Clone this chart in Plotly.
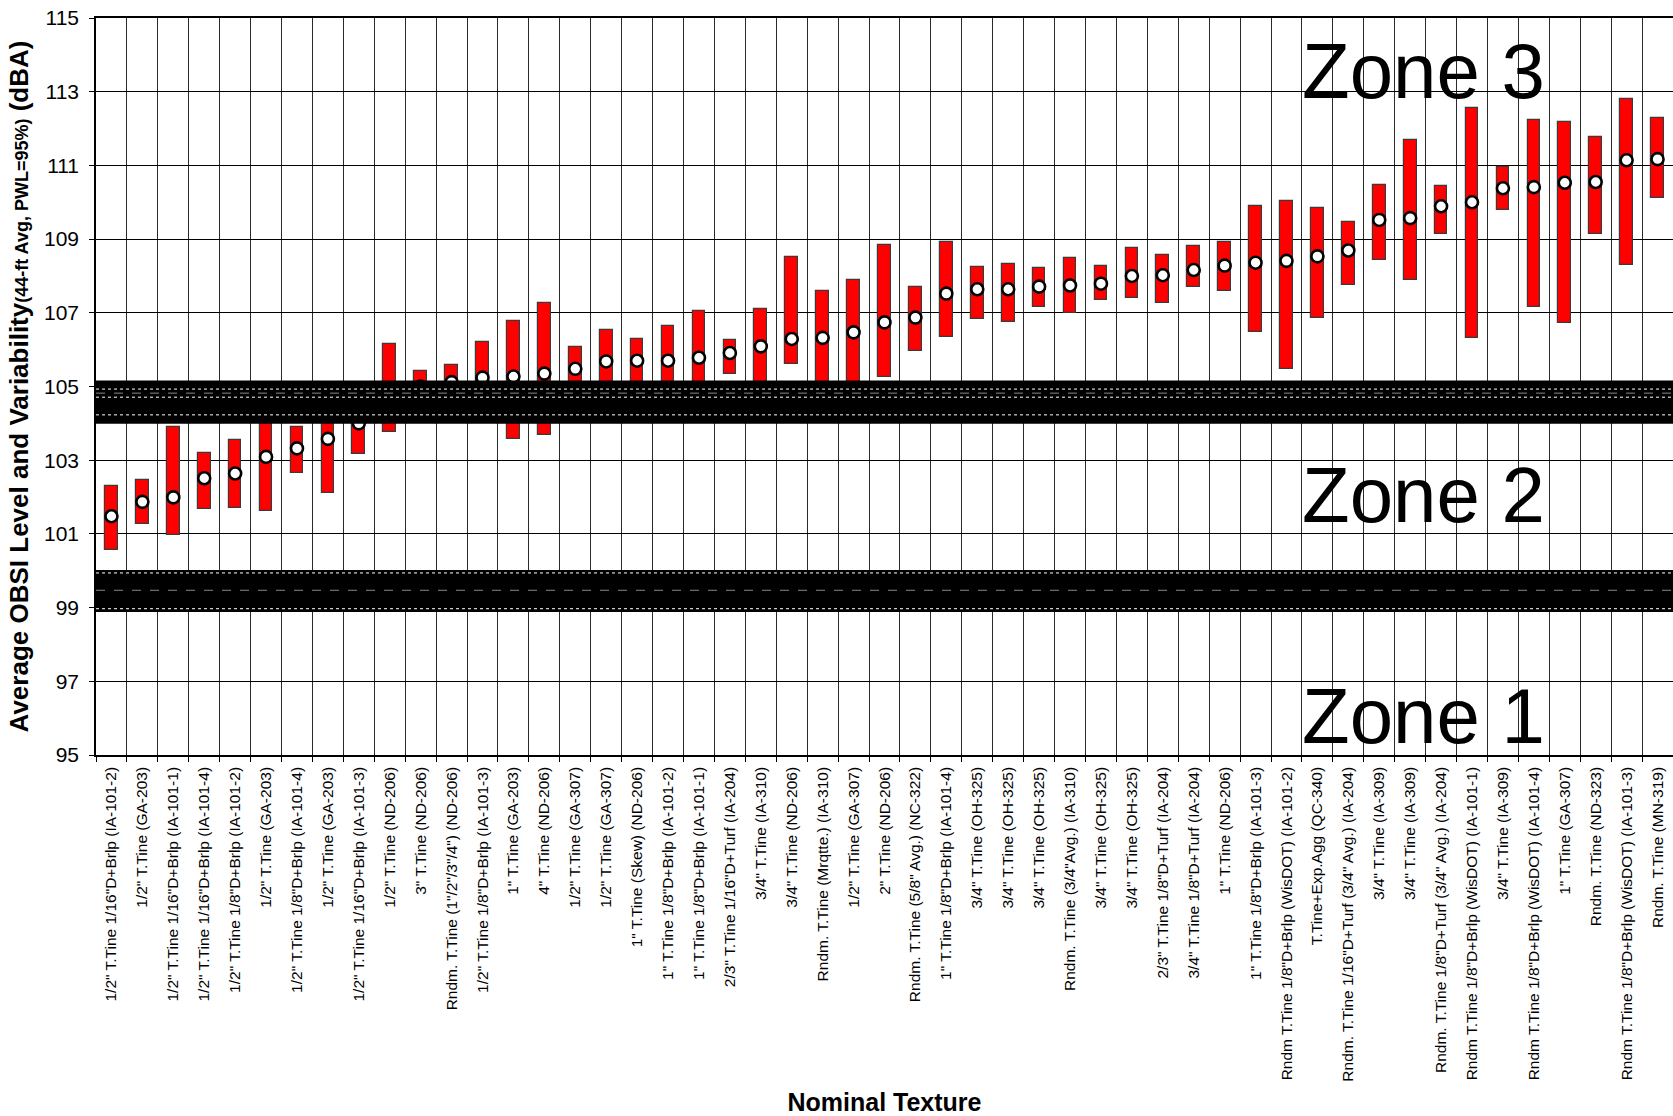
import plotly.graph_objects as go

labels = [
    '1/2" T.Tine 1/16"D+Brlp (IA-101-2)',
    '1/2" T.Tine (GA-203)',
    '1/2" T.Tine 1/16"D+Brlp (IA-101-1)',
    '1/2" T.Tine 1/16"D+Brlp (IA-101-4)',
    '1/2" T.Tine 1/8"D+Brlp (IA-101-2)',
    '1/2" T.Tine (GA-203)',
    '1/2" T.Tine 1/8"D+Brlp (IA-101-4)',
    '1/2" T.Tine (GA-203)',
    '1/2" T.Tine 1/16"D+Brlp (IA-101-3)',
    '1/2" T.Tine (ND-206)',
    '3" T.Tine (ND-206)',
    'Rndm. T.Tine (1"/2"/3"/4") (ND-206)',
    '1/2" T.Tine 1/8"D+Brlp (IA-101-3)',
    '1" T.Tine (GA-203)',
    '4" T.Tine (ND-206)',
    '1/2" T.Tine (GA-307)',
    '1/2" T.Tine (GA-307)',
    '1" T.Tine (Skew) (ND-206)',
    '1" T.Tine 1/8"D+Brlp (IA-101-2)',
    '1" T.Tine 1/8"D+Brlp (IA-101-1)',
    '2/3" T.Tine 1/16"D+Turf (IA-204)',
    '3/4" T.Tine (IA-310)',
    '3/4" T.Tine (ND-206)',
    'Rndm. T.Tine (Mrqtte.) (IA-310)',
    '1/2" T.Tine (GA-307)',
    '2" T.Tine (ND-206)',
    'Rndm. T.Tine (5/8" Avg.) (NC-322)',
    '1" T.Tine 1/8"D+Brlp (IA-101-4)',
    '3/4" T.Tine (OH-325)',
    '3/4" T.Tine (OH-325)',
    '3/4" T.Tine (OH-325)',
    'Rndm. T.Tine (3/4"Avg.) (IA-310)',
    '3/4" T.Tine (OH-325)',
    '3/4" T.Tine (OH-325)',
    '2/3" T.Tine 1/8"D+Turf (IA-204)',
    '3/4" T.Tine 1/8"D+Turf (IA-204)',
    '1" T.Tine (ND-206)',
    '1" T.Tine 1/8"D+Brlp (IA-101-3)',
    'Rndm T.Tine 1/8"D+Brlp (WisDOT) (IA-101-2)',
    'T.Tine+Exp.Agg (QC-340)',
    'Rndm. T.Tine 1/16"D+Turf (3/4" Avg.) (IA-204)',
    '3/4" T.Tine (IA-309)',
    '3/4" T.Tine (IA-309)',
    'Rndm. T.Tine 1/8"D+Turf (3/4" Avg.) (IA-204)',
    'Rndm T.Tine 1/8"D+Brlp (WisDOT) (IA-101-1)',
    '3/4" T.Tine (IA-309)',
    'Rndm T.Tine 1/8"D+Brlp (WisDOT) (IA-101-4)',
    '1" T.Tine (GA-307)',
    'Rndm. T.Tine (ND-323)',
    'Rndm T.Tine 1/8"D+Brlp (WisDOT) (IA-101-3)',
    'Rndm. T.Tine (MN-319)',
]

mean_level = [101.48, 101.87, 101.99, 102.51, 102.64, 103.09, 103.32, 103.58, 104.00, 104.95,
              105.00, 105.12, 105.24, 105.27, 105.35, 105.48, 105.68, 105.70, 105.70, 105.78,
              105.91, 106.09, 106.29, 106.32, 106.47, 106.74, 106.87, 107.52, 107.64, 107.64,
              107.71, 107.74, 107.79, 108.00, 108.02, 108.16, 108.28, 108.36, 108.41, 108.53,
              108.69, 109.52, 109.57, 109.89, 110.00, 110.38, 110.41, 110.53, 110.55, 111.14,
              111.17]

high_level = [102.29, 102.47, 103.90, 103.20, 103.54, 104.50, 103.90, 105.00, 104.80, 106.16,
              105.43, 105.59, 106.20, 106.79, 107.26, 106.07, 106.53, 106.28, 106.65, 107.06,
              106.26, 107.09, 108.51, 107.59, 107.88, 108.84, 107.69, 108.91, 108.25, 108.33,
              108.21, 108.48, 108.28, 108.76, 108.57, 108.80, 108.91, 109.89, 110.03, 109.85,
              109.47, 110.47, 111.70, 110.45, 112.56, 110.97, 112.23, 112.17, 111.77, 112.81,
              112.28]

low_level = [100.56, 101.27, 100.96, 101.68, 101.70, 101.63, 102.66, 102.10, 103.16, 103.76,
             104.60, 104.65, 104.30, 103.58, 103.68, 104.90, 104.83, 104.90, 104.75, 104.50,
             105.35, 105.00, 105.60, 105.05, 105.06, 105.26, 105.97, 106.34, 106.84, 106.75,
             107.17, 106.99, 107.34, 107.41, 107.26, 107.71, 107.58, 106.47, 105.47, 106.87,
             107.75, 108.42, 107.90, 109.15, 106.32, 109.78, 107.15, 106.71, 109.13, 108.29,
             110.11]

# zone boundary bands (low, high) in dBA
zone_bands = [(103.99, 105.16), (98.88, 100.02)]
band_white_lines = [104.93, 104.71, 104.23, 99.94, 98.97]
band_gray_lines = [104.82, 99.47]

zone_names = ["Zone 3", "Zone 2", "Zone 1"]
zone_label_y = [113.55, 102.05, 96.05]
zone_label_x = 38.45

y_ticks = [95, 97, 99, 101, 103, 105, 107, 109, 111, 113, 115]

FONT = "Liberation Sans, Arial, sans-serif"
xs = list(range(len(labels)))

fig = go.Figure()
fig.add_trace(go.Bar(
    x=xs,
    y=[h - l for h, l in zip(high_level, low_level)],
    base=low_level,
    width=0.41,
    marker=dict(color="#FF0000", line=dict(color="#3a3a3a", width=1.2)),
    showlegend=False,
    hoverinfo="skip",
))
fig.add_trace(go.Scatter(
    x=xs, y=mean_level, mode="markers",
    marker=dict(symbol="circle", size=12, color="white", line=dict(color="black", width=2.6)),
    showlegend=False,
))

for lo, hi in zone_bands:
    fig.add_shape(type="rect", xref="paper", x0=0, x1=1, yref="y", y0=lo, y1=hi,
                  fillcolor="black", line_width=0, layer="above")
for v in band_white_lines:
    fig.add_shape(type="line", xref="paper", x0=0, x1=1, yref="y", y0=v, y1=v,
                  line=dict(color="white", width=1, dash="dot"), layer="above")
for v in band_gray_lines:
    fig.add_shape(type="line", xref="paper", x0=0, x1=1, yref="y", y0=v, y1=v,
                  line=dict(color="#888888", width=1, dash="dash"), layer="above")

for name, yv in zip(zone_names, zone_label_y):
    fig.add_annotation(x=zone_label_x, y=yv, xref="x", yref="y", text=name,
                       showarrow=False, xanchor="left", yanchor="middle",
                       font=dict(family=FONT, size=78, color="black"))

fig.update_layout(
    width=1673, height=1116, autosize=False,
    margin=dict(l=96, r=0, t=18, b=361),
    plot_bgcolor="white", paper_bgcolor="white",
    font=dict(family=FONT, color="black"),
    bargap=0,
)
fig.update_xaxes(
    automargin=False,
    range=[-0.5, len(labels) - 0.5],
    tickmode="array", tickvals=xs, ticktext=labels,
    tickangle=-90, tickfont=dict(family=FONT, size=15.5, color="black"),
    ticks="", ticklabelstandoff=4, showgrid=False, zeroline=False,
    showline=True, linecolor="black", linewidth=1.5, mirror=True,
    minor=dict(tick0=-0.5, dtick=1, showgrid=True, gridcolor="#2a2a2a", gridwidth=1,
               ticks="outside", ticklen=5, tickcolor="black"),
    title=dict(text="<b>Nominal Texture</b>", font=dict(family=FONT, size=25, color="black"),
               standoff=17),
)
fig.update_yaxes(
    automargin=False,
    range=[95, 115], tickmode="array", tickvals=y_ticks,
    tickfont=dict(family=FONT, size=21, color="black"),
    ticks="outside", ticklen=5, tickcolor="black", ticklabelstandoff=6,
    ticklabeloverflow="allow",
    showgrid=True, gridcolor="black", gridwidth=1, zeroline=False,
    showline=True, linecolor="black", linewidth=1.5,
    title=dict(text="<b>Average OBSI Level and Variability<span style='font-size:18px'>(44-ft Avg, PWL=95%)</span> (dBA)</b>",
               font=dict(family=FONT, size=26, color="black"), standoff=8),
)

# remove the browser's default 8px body margin so the figure fills the window exactly
fig.write_html("out.html", config={"displayModeBar": False},
               post_script="document.body.style.margin='0px';")
